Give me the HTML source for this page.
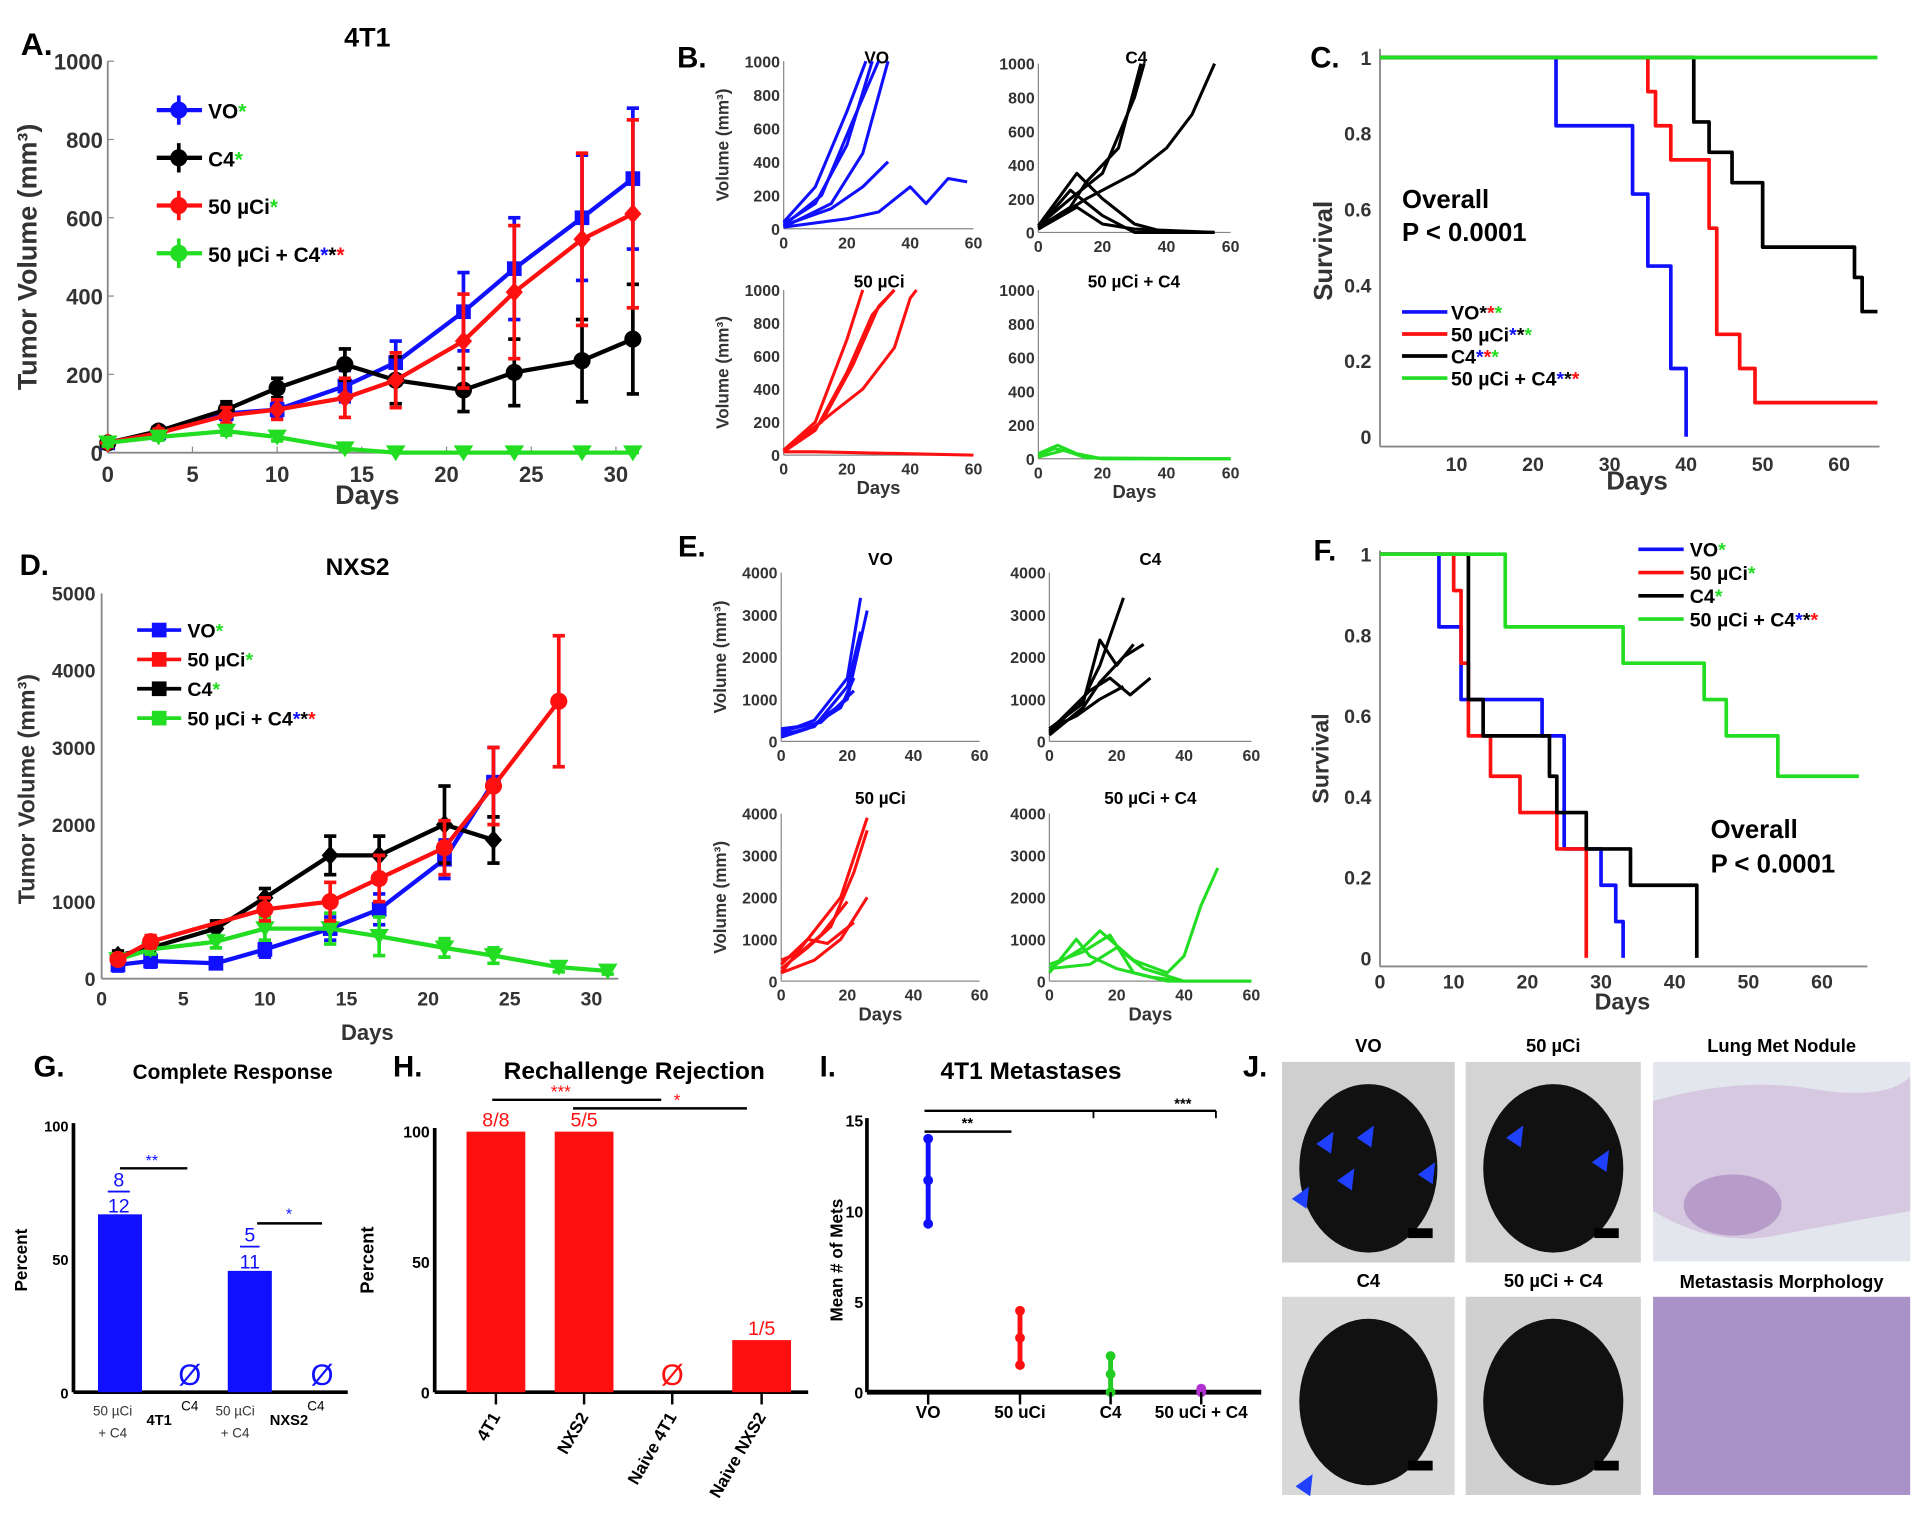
<!DOCTYPE html>
<html><head><meta charset="utf-8"><style>
html,body{margin:0;padding:0;background:#fff}
svg{display:block;font-family:"Liberation Sans",sans-serif}
</style></head><body>
<svg id="fig" width="1920" height="1517" viewBox="0 0 1568 1240" preserveAspectRatio="none" xmlns="http://www.w3.org/2000/svg"></svg>
<script>
// ---------- DATA ----------
const aDays=[0,3,7,10,14,17,21,24,28,31];
const aVO=[25,50,100,110,170,230,360,470,600,700];
const aVOerr=[10,10,15,20,40,55,100,130,160,180];
const aC4=[25,55,110,165,225,185,160,205,235,290];
const aC4err=[10,10,20,25,40,60,55,85,105,140];
const aRad=[25,50,95,110,140,185,285,410,545,610];
const aRaderr=[10,10,20,25,50,70,120,170,220,240];
const aCombo=[25,40,55,40,10,0,0,0,0,0];
const aComboErr=[8,8,10,10,5,3,3,3,3,3];
const dVOdays=[1,3,7,10,14,17,21,24];
const dVO=[180,230,200,380,650,900,1550,2550];
const dVOerr=[80,80,60,100,150,200,250,450];
const dRadDays=[1,3,10,14,17,21,24,28];
const dRad=[250,480,900,1000,1300,1700,2500,3600];
const dRadErr=[60,80,150,250,300,350,500,850];
const dC4days=[1,3,7,10,14,17,21,24];
const dC4=[300,400,650,1050,1600,1600,2000,1800];
const dC4err=[60,80,100,120,250,250,500,300];
const dComboDays=[1,3,7,10,14,17,21,24,28,31];
const dCombo=[250,380,480,650,650,550,400,300,150,100];
const dComboErr=[60,60,80,150,200,250,120,100,60,40];
const cVO=[[0,1],[23,0.82],[33,0.64],[35,0.45],[38,0.18],[40,0]];
const cRad=[[0,1],[35,0.91],[36,0.82],[38,0.73],[43,0.55],[44,0.27],[47,0.18],[49,0.09],[65,0.09]];
const cC4=[[0,1],[41,0.83],[43,0.75],[46,0.67],[50,0.5],[62,0.42],[63,0.33],[65,0.33]];
const cCombo=[[0,1],[65,1]];
const fVO=[[0,1],[8,0.82],[11,0.64],[22,0.55],[25,0.27],[30,0.18],[32,0.09],[33,0]];
const fRad=[[0,1],[10,0.91],[11,0.73],[12,0.55],[15,0.45],[19,0.36],[24,0.27],[28,0]];
const fC4=[[0,1],[12,0.64],[14,0.55],[23,0.45],[24,0.36],[28,0.27],[34,0.18],[43,0]];
const fCombo=[[0,1],[17,0.82],[33,0.73],[44,0.64],[47,0.55],[54,0.45],[65,0.45]];
const bVO=[[[0,30],[10,150],[20,500],[28,1000]],[[0,20],[12,200],[22,650],[30,1000]],[[0,40],[10,250],[20,700],[26,1000]],[[0,10],[15,150],[25,450],[33,1000]],[[0,20],[15,120],[25,250],[33,400]],[[0,10],[20,60],[30,100],[40,250],[45,150],[52,300],[58,280]]];
const bC4=[[[0,30],[10,150],[15,300],[25,500],[32,1000]],[[0,40],[10,200],[20,350],[30,800],[33,1000]],[[0,20],[15,200],[30,350],[40,500],[48,700],[55,1000]],[[0,40],[12,350],[20,200],[30,50],[40,0],[55,0]],[[0,20],[12,150],[20,50],[30,20],[55,0]],[[0,30],[10,250],[20,100],[30,0],[55,0]]];
const bRad=[[[0,30],[10,200],[20,700],[25,1000]],[[0,20],[10,150],[20,500],[28,850],[35,1000]],[[0,20],[15,250],[25,400],[35,650],[40,950],[42,1000]],[[0,30],[12,200],[22,550],[30,900],[35,1000]],[[0,20],[10,20],[60,0]]];
const bCombo=[[[0,20],[5,60],[10,40],[15,10],[20,0],[60,0]],[[0,30],[6,80],[12,30],[20,0],[60,0]],[[0,10],[8,50],[15,5],[60,0]]];
const eVO=[[[0,200],[10,500],[20,1500],[24,3400]],[[0,300],[10,400],[20,1000],[26,3100]],[[0,100],[8,300],[18,800],[22,1500]],[[0,150],[10,350],[20,1300],[24,2600]],[[0,250],[12,450],[22,1200]]];
const eC4=[[[0,200],[10,1000],[15,1800],[22,3400]],[[0,300],[10,900],[15,2400],[20,1800],[25,2300]],[[0,250],[12,1200],[18,1500],[24,1100],[30,1500]],[[0,150],[10,800],[15,1400],[22,2000],[28,2300]],[[0,300],[8,600],[15,1000],[22,1300]]];
const eRad=[[[0,200],[10,1200],[18,2000],[26,3900]],[[0,300],[8,800],[15,1300],[22,2600],[26,3600]],[[0,200],[10,500],[18,1000],[26,2000]],[[0,500],[6,700],[12,1100],[20,1900]],[[0,400],[8,1000],[14,900],[22,1400]]];
const eCombo=[[[0,300],[10,800],[15,1200],[25,500],[35,200],[40,600],[45,1800],[50,2700]],[[0,200],[8,1000],[12,600],[20,300],[30,100],[40,0],[60,0]],[[0,400],[10,700],[18,1100],[25,200],[35,0],[60,0]],[[0,300],[12,400],[20,800],[28,300],[40,0]]];
const gCats=["4T1 combo","4T1 C4","NXS2 combo","NXS2 C4"];
const gVals=[66.7,0,45.5,0];
const hCats=["4T1","NXS2","Naive 4T1","Naive NXS2"];
const hVals=[100,100,0,20];
const hLabels=["8/8","5/5","Ø","1/5"];
const iCats=["VO","50 uCi","C4","50 uCi + C4"];
const iMeans=[11.7,3,1,0];
const iLo=[9.3,1.5,0,0];
const iHi=[14,4.5,2,0.2];

// ---------- HELPERS ----------
const NS="http://www.w3.org/2000/svg";
const fig=document.getElementById('fig');
function mk(tag,attrs,parent,text){const e=document.createElementNS(NS,tag);for(const k in attrs)e.setAttribute(k,attrs[k]);if(text!==undefined)e.textContent=text;(parent||fig).appendChild(e);return e;}
function txt(x,y,s,o){o=o||{};const e=mk('text',{x:x,y:y,'font-size':o.fs||14,'font-weight':o.fw||'bold','text-anchor':o.a||'middle',fill:o.c||'#000'},o.p,s);if(o.rot!==undefined)e.setAttribute('transform','rotate('+o.rot+' '+x+' '+y+')');return e;}
function lin(d0,d1,r0,r1){return v=>r0+(v-d0)/(d1-d0)*(r1-r0);}
function line(x1,y1,x2,y2,c,w,p){const e=mk('line',{x1:x1,y1:y1,x2:x2,y2:y2,stroke:c||'#000','stroke-width':w||1.5},p);return e;}
function group(name){const g=mk('g',{});return g;}
function poly(pts,c,w,p,name){const e=mk('polyline',{points:pts.map(q=>q.join(',')).join(' '),fill:'none',stroke:c,'stroke-width':w||3,'stroke-linejoin':'round'},p);return e;}
function marker(x,y,shape,c,p){let e;
 if(shape==='circle')e=mk('circle',{cx:x,cy:y,r:7,fill:c},p);
 else if(shape==='square')e=mk('rect',{x:x-6,y:y-6,width:12,height:12,fill:c},p);
 else if(shape==='diamond')e=mk('polygon',{points:`${x},${y-8} ${x+7},${y} ${x},${y+8} ${x-7},${y}`,fill:c},p);
 else e=mk('polygon',{points:`${x-8},${y-6} ${x+8},${y-6} ${x},${y+7}`,fill:c},p);
 }
function errSeries(g,X,Y,days,vals,errs,c,shape){
 poly(days.map((d,i)=>[X(d),Y(vals[i])]),c,3.5,g);
 days.forEach((d,i)=>{const x=X(d);const y1=Y(vals[i]+errs[i]),y2=Y(Math.max(0,vals[i]-errs[i]));
  const e=mk('line',{x1:x,y1:y1,x2:x,y2:y2,stroke:c,'stroke-width':3},g);
  line(x-5,y1,x+5,y1,c,3,g);line(x-5,y2,x+5,y2,c,3,g);marker(x,Y(vals[i]),shape,c,g);});}
function stepPts(data,X,Y){const pts=[];data.forEach((d,i)=>{if(i>0)pts.push([X(d[0]),Y(data[i-1][1])]);pts.push([X(d[0]),Y(d[1])]);});return pts;}

// ---------- PANEL A ----------
(function(){const g=group('panel-a');
 const X=lin(0,30,88,503),Y=lin(0,1000,370,50);
 txt(30,45,'A.',{fs:26,a:'middle',p:g,name:'panel-letter'});
 txt(300,38,'4T1',{fs:22,p:g,name:'chart-title'});
 line(X(0),Y(0),X(0),Y(1000),'#888',1.5,g);line(X(0),Y(0),520,Y(0),'#888',1.5,g);
 [0,200,400,600,800,1000].forEach(v=>{txt(X(0)-4,Y(v)+7,String(v),{fs:18,a:'end',c:'#333',p:g,name:'y-tick'});line(X(0),Y(v),X(0)+5,Y(v),'#888',1,g);});
 [0,5,10,15,20,25,30].forEach(v=>{txt(X(v),Y(0)+24,String(v),{fs:18,c:'#333',p:g,name:'x-tick'});line(X(v),Y(0),X(v),Y(0)-5,'#888',1,g);});
 txt(300,412,'Days',{fs:22,c:'#333',p:g,name:'x-axis-title'});
 txt(30,210,'Tumor Volume (mm³)',{fs:22,c:'#333',rot:-90,p:g,name:'y-axis-title'});
 errSeries(g,X,Y,aDays,aVO,aVOerr,'#1010ff','square');
 errSeries(g,X,Y,aDays,aC4,aC4err,'#000','circle');
 errSeries(g,X,Y,aDays,aRad,aRaderr,'#ff1010','diamond');
 errSeries(g,X,Y,aDays,aCombo,aComboErr,'#22dd22','tri');
 const leg=[['VO','#1010ff',[['*','#22dd22']]],['C4','#000',[['*','#22dd22']]],['50  µCi','#ff1010',[['*','#22dd22']]],['50  µCi + C4','#22dd22',[['*','#1010ff'],['*','#000'],['*','#ff1010']]]];
 leg.forEach((l,i)=>{const y=90+i*39;const lg=group('legend-entry');g.appendChild(lg);
  line(128,y,165,y,l[1],3.5,lg);line(146,y-12,146,y+12,l[1],3,lg);marker(146,y,'circle',l[1],lg);
  const t=txt(170,y+7,l[0],{fs:17,a:'start',p:lg,name:'legend-label'});
  l[2].forEach(s=>{mk('tspan',{fill:s[1]},t,s[0]);});});
})();

function small(g,x0,x1,y0,y1,ymax,yt,title,curves,c,opts){
 const X=lin(0,60,x0,x1),Y=lin(0,ymax,y0,y1);
 line(x0,y0,x0,y1,'#888',1,g);line(x0,y0,x1,y0,'#888',1,g);
 yt.forEach(v=>txt(x0-3,Y(v)+5,String(v),{fs:13,a:'end',c:'#333',p:g,name:'y-tick'}));
 [0,20,40,60].forEach(v=>txt(X(v),y0+16,String(v),{fs:13,c:'#333',p:g,name:'x-tick'}));
 txt(opts.tx!==undefined?opts.tx:(x0+x1)/2,opts.ty!==undefined?opts.ty:y1-8,title,{fs:14,p:g,name:'subplot-title'});
 curves.forEach(cv=>poly(cv.map(p=>[X(p[0]),Y(Math.min(p[1],ymax))]),c,2.5,g,'mouse-curve'));
 if(opts.ylab)txt(x0-45,(y0+y1)/2,opts.ylab,{fs:14,c:'#333',rot:-90,a:'middle',p:g,name:'y-axis-title'});
 if(opts.xlab)txt((x0+x1)/2,y0+32,opts.xlab,{fs:15,c:'#333',p:g,name:'x-axis-title'});
}
// ---------- PANEL B ----------
(function(){const g=group('panel-b');
 txt(565,55,'B.',{fs:24,p:g,name:'panel-letter'});
 const t=[0,200,400,600,800,1000];
 small(g,640,795,187,50,1000,t,'VO',bVO,'#1010ff',{ylab:'Volume (mm³)',tx:716,ty:52});
 small(g,848,1005,190,52,1000,t,'C4',bC4,'#000',{tx:928,ty:52});
 small(g,640,795,372,237,1000,t,'50 µCi',bRad,'#ff1010',{ylab:'Volume (mm³)',xlab:'Days',tx:718,ty:235});
 small(g,848,1005,375,237,1000,t,'50 µCi + C4',bCombo,'#22dd22',{xlab:'Days',tx:926,ty:235});
})();

function surv(g,X,Y,xmax,series,cols){
 series.forEach((s,i)=>poly(stepPts(s,X,Y),cols[i],3,g,'survival-curve'));}
// ---------- PANEL C ----------
(function(){const g=group('panel-c');
 const X=lin(0,60,1127,1502),Y=lin(0,1,357,47);
 txt(1082,55,'C.',{fs:24,p:g,name:'panel-letter'});
 line(1127,365,1127,40,'#888',1.5,g);line(1127,365,1535,365,'#888',1.5,g);
 [0,0.2,0.4,0.6,0.8,1].forEach(v=>txt(1120,Y(v)+6,String(v),{fs:16,a:'end',c:'#333',p:g,name:'y-tick'}));
 [10,20,30,40,50,60].forEach(v=>txt(X(v),385,String(v),{fs:16,c:'#333',p:g,name:'x-tick'}));
 txt(1337,400,'Days',{fs:21,c:'#333',p:g,name:'x-axis-title'});
 txt(1088,205,'Survival',{fs:21,c:'#333',rot:-90,p:g,name:'y-axis-title'});
 surv(g,X,Y,65,[cVO,cRad,cC4,cCombo],['#1010ff','#ff1010','#000','#22dd22']);
 txt(1145,170,'Overall',{fs:21,a:'start',p:g,name:'stat-label'});
 txt(1145,197,'P < 0.0001',{fs:21,a:'start',p:g,name:'p-value'});
 const leg=[['VO','#1010ff',[['*','#000'],['*','#ff1010'],['*','#22dd22']]],['50 µCi','#ff1010',[['*','#1010ff'],['*','#000'],['*','#22dd22']]],['C4','#000',[['*','#1010ff'],['*','#ff1010'],['*','#22dd22']]],['50 µCi + C4','#22dd22',[['*','#1010ff'],['*','#000'],['*','#ff1010']]]];
 leg.forEach((l,i)=>{const y=255+i*18;const lg=group('legend-entry');g.appendChild(lg);line(1145,y,1182,y,l[1],3,lg);
  const t=txt(1185,y+6,l[0],{fs:16,a:'start',p:lg,name:'legend-label'});l[2].forEach(s=>mk('tspan',{fill:s[1]},t,s[0]));});
})();

// ---------- PANEL D ----------
(function(){const g=group('panel-d');
 const X=lin(0,30,83,483),Y=lin(0,5000,800,485);
 txt(28,470,'D.',{fs:24,p:g,name:'panel-letter'});
 txt(292,470,'NXS2',{fs:20,p:g,name:'chart-title'});
 line(X(0),Y(0),X(0),Y(5000),'#888',1.5,g);line(X(0),Y(0),505,Y(0),'#888',1.5,g);
 [0,1000,2000,3000,4000,5000].forEach(v=>txt(X(0)-5,Y(v)+6,String(v),{fs:16,a:'end',c:'#333',p:g,name:'y-tick'}));
 [0,5,10,15,20,25,30].forEach(v=>txt(X(v),Y(0)+22,String(v),{fs:16,c:'#333',p:g,name:'x-tick'}));
 txt(300,850,'Days',{fs:18,c:'#333',p:g,name:'x-axis-title'});
 txt(28,645,'Tumor Volume (mm³)',{fs:19,c:'#333',rot:-90,p:g,name:'y-axis-title'});
 errSeries(g,X,Y,dVOdays,dVO,dVOerr,'#1010ff','square');
 errSeries(g,X,Y,dC4days,dC4,dC4err,'#000','diamond');
 errSeries(g,X,Y,dComboDays,dCombo,dComboErr,'#22dd22','tri');
 errSeries(g,X,Y,dRadDays,dRad,dRadErr,'#ff1010','circle');
 const leg=[['VO','#1010ff',[['*','#22dd22']]],['50 µCi','#ff1010',[['*','#22dd22']]],['C4','#000',[['*','#22dd22']]],['50 µCi + C4','#22dd22',[['*','#1010ff'],['*','#000'],['*','#ff1010']]]];
 leg.forEach((l,i)=>{const y=515+i*24;const lg=group('legend-entry');g.appendChild(lg);line(112,y,148,y,l[1],3,lg);marker(130,y,'square',l[1],lg);
  const t=txt(153,y+6,l[0],{fs:16,a:'start',p:lg,name:'legend-label'});l[2].forEach(s=>mk('tspan',{fill:s[1]},t,s[0]));});
})();

// ---------- PANEL E ----------
(function(){const g=group('panel-e');
 txt(565,455,'E.',{fs:24,p:g,name:'panel-letter'});
 const t=[0,1000,2000,3000,4000];
 small(g,638,800,606,468,4000,t,'VO',eVO,'#1010ff',{ylab:'Volume (mm³)',ty:462});
 small(g,857,1022,606,468,4000,t,'C4',eC4,'#000',{ty:462});
 small(g,638,800,802,665,4000,t,'50  µCi',eRad,'#ff1010',{ylab:'Volume (mm³)',xlab:'Days',ty:657});
 small(g,857,1022,802,665,4000,t,'50  µCi + C4',eCombo,'#22dd22',{xlab:'Days',ty:657});
})();

// ---------- PANEL F ----------
(function(){const g=group('panel-f');
 const X=lin(0,60,1127,1488),Y=lin(0,1,783,453);
 txt(1082,458,'F.',{fs:24,p:g,name:'panel-letter'});
 line(1127,790,1127,450,'#888',1.5,g);line(1127,790,1525,790,'#888',1.5,g);
 [0,0.2,0.4,0.6,0.8,1].forEach(v=>txt(1120,Y(v)+6,String(v),{fs:16,a:'end',c:'#333',p:g,name:'y-tick'}));
 [0,10,20,30,40,50,60].forEach(v=>txt(X(v),808,String(v),{fs:16,c:'#333',p:g,name:'x-tick'}));
 txt(1325,825,'Days',{fs:19,c:'#333',p:g,name:'x-axis-title'});
 txt(1085,620,'Survival',{fs:19,c:'#333',rot:-90,p:g,name:'y-axis-title'});
 surv(g,X,Y,65,[fVO,fRad,fC4,fCombo],['#1010ff','#ff1010','#000','#22dd22']);
 txt(1397,685,'Overall',{fs:21,a:'start',p:g,name:'stat-label'});
 txt(1397,713,'P < 0.0001',{fs:21,a:'start',p:g,name:'p-value'});
 const leg=[['VO','#1010ff',[['*','#22dd22']]],['50 µCi','#ff1010',[['*','#22dd22']]],['C4','#000',[['*','#22dd22']]],['50 µCi +  C4','#22dd22',[['*','#1010ff'],['*','#000'],['*','#ff1010']]]];
 leg.forEach((l,i)=>{const y=449+i*19;const lg=group('legend-entry');g.appendChild(lg);line(1338,y,1375,y,l[1],3,lg);
  const t=txt(1380,y+6,l[0],{fs:16,a:'start',p:lg,name:'legend-label'});l[2].forEach(s=>mk('tspan',{fill:s[1]},t,s[0]));});
})();

// ---------- PANEL G ----------
(function(){const g=group('panel-g');
 const Y=lin(0,100,1138,920);const xs=[98,155,204,263];
 txt(40,880,'G.',{fs:24,p:g,name:'panel-letter'});
 txt(190,882,'Complete Response',{fs:17,p:g,name:'chart-title'});
 line(60,1138,60,918,'#000',3,g);line(60,1138,284,1138,'#000',3,g);
 [0,50,100].forEach(v=>txt(56,Y(v)+5,String(v),{fs:12,a:'end',p:g,name:'y-tick'}));
 txt(22,1030,'Percent',{fs:14,rot:-90,p:g,name:'y-axis-title'});
 gVals.forEach((v,i)=>{if(v>0){const r=mk('rect',{x:xs[i]-18,y:Y(v),width:36,height:Y(0)-Y(v),fill:'#1010ff'},g);}
  else txt(xs[i],Y(0)-6,'Ø',{fs:24,fw:'normal',c:'#1010ff',p:g,name:'zero-label'});});
 txt(97,970,'8',{fs:16,fw:'normal',c:'#1010ff',p:g,name:'fraction-label'});line(88,974,106,974,'#1010ff',1.5,g);txt(97,991,'12',{fs:16,fw:'normal',c:'#1010ff',p:g,name:'fraction-label'});
 txt(204,1015,'5',{fs:16,fw:'normal',c:'#1010ff',p:g,name:'fraction-label'});line(196,1019,212,1019,'#1010ff',1.5,g);txt(204,1037,'11',{fs:16,fw:'normal',c:'#1010ff',p:g,name:'fraction-label'});
 line(98,955,153,955,'#000',2,g);txt(124,953,'**',{fs:13,fw:'normal',c:'#1010ff',p:g,name:'significance'});
 line(210,1000,263,1000,'#000',2,g);txt(236,997,'*',{fs:13,fw:'normal',c:'#1010ff',p:g,name:'significance'});
 [['50 µCi',92,1157],['+ C4',92,1175],['50 µCi',192,1157],['+ C4',192,1175]].forEach(l=>txt(l[1],l[2],l[0],{fs:11,fw:'normal',c:'#333',p:g,name:'x-tick'}));
 txt(130,1165,'4T1',{fs:12,p:g,name:'x-group'});txt(236,1165,'NXS2',{fs:12,p:g,name:'x-group'});
 txt(155,1153,'C4',{fs:11,fw:'normal',p:g,name:'x-tick'});txt(258,1153,'C4',{fs:11,fw:'normal',p:g,name:'x-tick'});
})();

// ---------- PANEL H ----------
(function(){const g=group('panel-h');
 const Y=lin(0,100,1138,925);const xs=[405,477,549,622];
 txt(333,880,'H.',{fs:24,p:g,name:'panel-letter'});
 txt(518,882,'Rechallenge Rejection',{fs:20,p:g,name:'chart-title'});
 line(355,1138,355,922,'#000',3,g);line(355,1138,660,1138,'#000',3,g);
 [0,50,100].forEach(v=>txt(351,Y(v)+5,String(v),{fs:13,a:'end',p:g,name:'y-tick'}));
 txt(305,1030,'Percent',{fs:15,rot:-90,p:g,name:'y-axis-title'});
 hVals.forEach((v,i)=>{if(v>0){const r=mk('rect',{x:xs[i]-24,y:Y(v),width:48,height:Y(0)-Y(v),fill:'#ff1010'},g);}
  txt(xs[i],v>0?Y(v)-4:Y(0)-6,hLabels[i],{fs:v>0?16:24,fw:'normal',c:'#ff1010',p:g,name:'bar-label'});
  line(xs[i],1138,xs[i],1148,'#000',2,g);
  txt(xs[i]+4,1158,hCats[i],{fs:14,a:'end',rot:-60,p:g,name:'x-tick'});});
 line(402,899,540,899,'#000',2,g);txt(458,897,'***',{fs:14,fw:'normal',c:'#ff1010',p:g,name:'significance'});
 line(468,906,610,906,'#000',2,g);txt(553,904,'*',{fs:14,fw:'normal',c:'#ff1010',p:g,name:'significance'});
})();

// ---------- PANEL I ----------
(function(){const g=group('panel-i');
 const Y=lin(0,15,1138,916);const xs=[758,833,907,981];const cols=['#1010ff','#ff1010','#22cc22','#b030d0'];
 txt(676,880,'I.',{fs:24,p:g,name:'panel-letter'});
 txt(842,882,'4T1 Metastases',{fs:20,p:g,name:'chart-title'});
 line(708,1138,708,914,'#000',3,g);line(708,1138,1030,1138,'#000',4,g);
 [0,5,10,15].forEach(v=>txt(705,Y(v)+5,String(v),{fs:13,a:'end',p:g,name:'y-tick'}));
 txt(688,1030,'Mean # of Mets',{fs:14,rot:-90,p:g,name:'y-axis-title'});
 iMeans.forEach((m,i)=>{const x=xs[i];const e=mk('line',{x1:x,y1:Y(iHi[i]),x2:x,y2:Y(iLo[i]),stroke:cols[i],'stroke-width':4},g);
  [iHi[i],m,iLo[i]].forEach(v=>{const c=mk('circle',{cx:x,cy:Y(v),r:4,fill:cols[i]},g);});
  txt(x,1159,iCats[i],{fs:14,p:g,name:'x-tick'});line(x,1138,x,1148,'#000',2,g);});
 line(755,908,993,908,'#000',2,g);line(893,908,893,914,'#000',1.5,g);line(993,908,993,914,'#000',1.5,g);txt(966,906,'***',{fs:12,p:g,name:'significance'});
 line(755,925,826,925,'#000',2,g);txt(790,922,'**',{fs:12,p:g,name:'significance'});
})();

// ---------- PANEL J ----------
(function(){const g=group('panel-j');
 txt(1025,880,'J.',{fs:24,p:g,name:'panel-letter'});
 const photos=[[1047,868,141,164,'VO','#cfcfcf'],[1197,868,143,164,'50 µCi','#d4d4d4'],[1047,1060,141,162,'C4','#d8d8d8'],[1197,1060,143,162,'50 µCi + C4','#d0d0d0']];
 photos.forEach(p=>{const pg=group('lung-photo');g.appendChild(pg);
  mk('rect',{x:p[0],y:p[1],width:p[2],height:p[3],fill:p[5]},pg);
  mk('ellipse',{cx:p[0]+p[2]/2,cy:p[1]+p[3]/2+5,rx:p[2]*0.4,ry:p[3]*0.42,fill:'#111'},pg);
  mk('rect',{x:p[0]+p[2]-38,y:p[1]+p[3]-28,width:20,height:8,fill:'#000'},pg);
  txt(p[0]+p[2]/2,p[1]-8,p[4],{fs:15,p:g,name:'photo-label'});});
 [[1055,980],[1075,935],[1092,965],[1108,930],[1158,960],[1230,930],[1300,950],[1058,1215]].forEach(a=>{const t=mk('polygon',{points:`${a[0]},${a[1]} ${a[0]+14},${a[1]-10} ${a[0]+12},${a[1]+8}`,fill:'#2040ff'},g);});
 const h1=mk('rect',{x:1350,y:868,width:210,height:163,fill:'#e4e6ee'},g);
 mk('path',{d:'M1350,900 Q1420,880 1480,890 T1560,880 L1560,990 Q1500,1000 1450,1010 T1350,990 Z',fill:'#d6c8e0'},g);
 mk('ellipse',{cx:1415,cy:985,rx:40,ry:25,fill:'#b79bc8'},g);
 txt(1455,860,'Lung Met Nodule',{fs:15,p:g,name:'photo-label'});
 const h2=mk('rect',{x:1350,y:1060,width:210,height:162,fill:'#a892c8'},g);
 txt(1455,1053,'Metastasis Morphology',{fs:15,p:g,name:'photo-label'});
})();
</script>
</body></html>
